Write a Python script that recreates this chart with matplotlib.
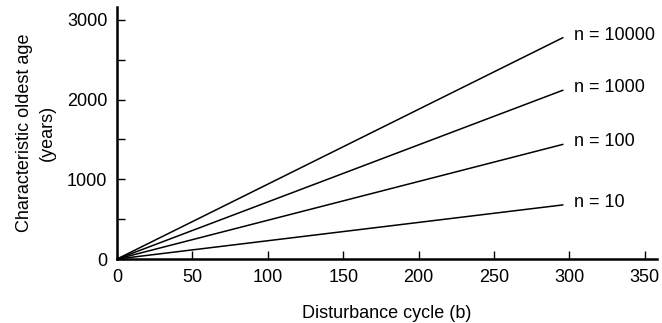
import matplotlib
matplotlib.use("Agg")
import matplotlib.pyplot as plt
import numpy as np

# data
cycle = [0, 296]
labels = ["n = 10", "n = 100", "n = 1000", "n = 10000"]
age_10 = [0, 680]
age_100 = [0, 1440]
age_1000 = [0, 2120]
age_10000 = [0, 2780]

xticks = [0, 50, 100, 150, 200, 250, 300, 350]
yticks = [0, 500, 1000, 1500, 2000, 2500, 3000]
yticklabels = ["0", "", "1000", "", "2000", "", "3000"]

def main():
    plt.rcParams['font.family'] = ['Liberation Sans', 'DejaVu Sans']
    plt.rcParams['font.size'] = 13

    fig = plt.figure(figsize=(6.62, 3.23), dpi=100)
    ax = fig.add_axes([0.1767, 0.198, 0.8157, 0.780])

    for ys, lab in zip([age_10, age_100, age_1000, age_10000], labels):
        ax.plot(cycle, ys, color="black", lw=1.1, solid_capstyle="butt")
        ax.text(cycle[-1] + 7, ys[-1] + 30, lab, ha="left", va="center")

    ax.set_xlim(0, 358)
    ax.set_ylim(0, 3160)
    ax.set_xticks(xticks)
    ax.set_yticks(yticks)
    ax.set_yticklabels(yticklabels)
    ax.tick_params(direction="in", length=5.5, width=1, pad=7, colors="black")

    #spines
    ax.spines["top"].set_visible(False)
    ax.spines["right"].set_visible(False)
    ax.spines["left"].set_linewidth(1.8)
    ax.spines["bottom"].set_linewidth(1.8)

    ax.set_xlabel("Disturbance cycle (b)", labelpad=14)
    ax.set_ylabel("Characteristic oldest age\n(years)", labelpad=8, linespacing=1.45)

    fig.savefig("out.png", dpi=100)

if __name__=="__main__":
    main()
